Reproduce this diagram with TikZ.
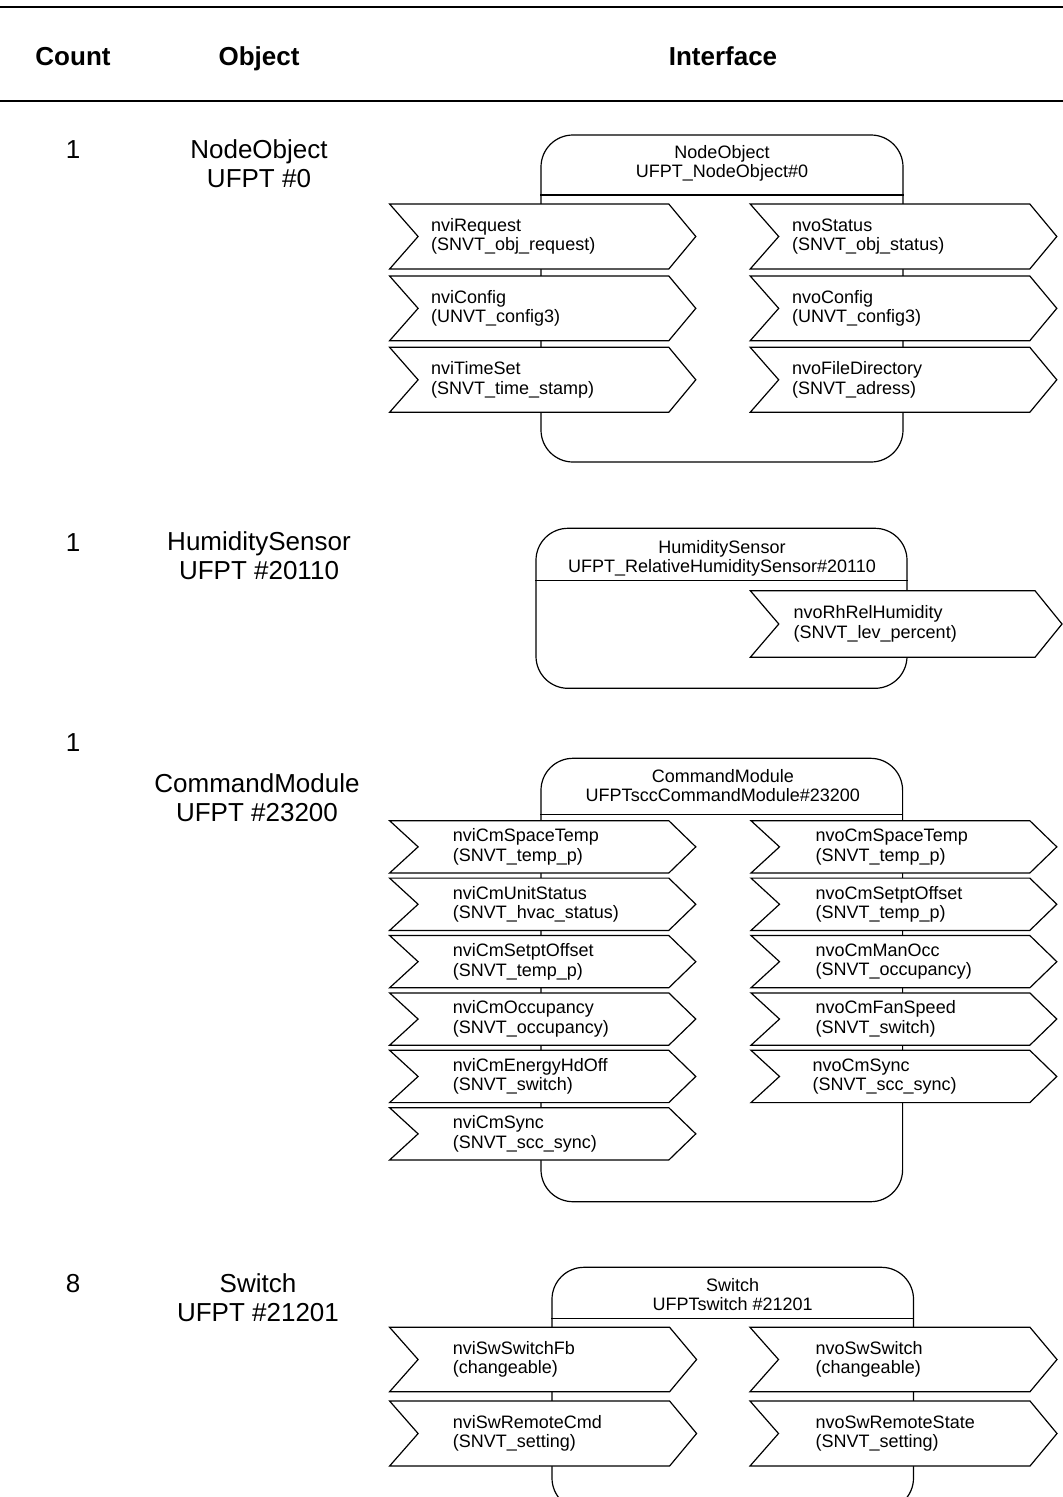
\documentclass[tikz,border=0pt]{standalone}
\usepackage{fontspec}
\setmainfont{Liberation Sans}

\tikzset{
  rule/.style={line width=2.4pt},
  objbox/.style={draw, line width=1.2pt, rounded corners=32pt, inner sep=0pt},
  divider/.style={line width=1.2pt},
  nvshape/.style={draw, fill=white, line width=1.2pt, line join=miter},
  nvtext/.style={anchor=west, align=left, inner sep=0pt, font=\fontsize{18}{19.5}\selectfont},
  titletext/.style={align=center, inner sep=0pt, font=\fontsize{18}{19}\selectfont},
  headtext/.style={anchor=base, inner sep=0pt, font=\fontsize{26}{29}\selectfont\bfseries},
  counttext/.style={anchor=base, inner sep=0pt, font=\fontsize{26}{29}\selectfont},
  objtext/.style={align=center, inner sep=0pt, font=\fontsize{26}{29}\selectfont},
}

% network variable chevron: name, x left, x body end, y top, y bottom, x text, text
\newcommand{\nvarrow}[7]{%
  \draw[nvshape] (#2,#4) -- (#3,#4) -- ({#3+27},{(#4+#5)/2}) -- (#3,#5)
    -- (#2,#5) -- ({#2+28.5},{(#4+#5)/2}) -- cycle;
  \node[nvtext] (#1) at (#6,{(#4+#5)/2}) {#7};
}

\begin{document}
\begin{tikzpicture}[x=1pt,y=-1pt]
\useasboundingbox (0,0) rectangle (1063,1497);
\clip (0,0) rectangle (1063,1497);

% table header
\draw[rule] (0,7) -- (1063,7);
\draw[rule] (0,101) -- (1063,101);
\node[headtext] (hcount) at (73,65) {Count};
\node[headtext] (hobject) at (259,65) {Object};
\node[headtext] (hiface) at (723,65) {Interface};

% ---------- NodeObject ----------
\node[counttext] (c1) at (73,158.6) {1};
\node[objtext] (o1) at (259,163.6) {NodeObject\\UFPT \#0};
\node[objbox, minimum width=362pt, minimum height=327pt] (nobox) at (722,298.5) {};
\coordinate (nodiv) at (0,195);
\draw[divider] (nobox.west |- nodiv) -- (nobox.east |- nodiv);
\node[titletext] (notitle) at (722,163.5) {NodeObject\\UFPT\_NodeObject\#0};
\nvarrow{nviRequest}{389.6}{668.8}{204}{269}{431}{nviRequest\\(SNVT\_obj\_request)}
\nvarrow{nviConfig}{389.6}{668.8}{276}{340.7}{431}{nviConfig\\(UNVT\_config3)}
\nvarrow{nviTimeSet}{389.6}{668.8}{347.3}{412.3}{431}{nviTimeSet\\(SNVT\_time\_stamp)}
\nvarrow{nvoStatus}{750.2}{1029.8}{204}{269}{792}{nvoStatus\\(SNVT\_obj\_status)}
\nvarrow{nvoConfig}{750.2}{1029.8}{276}{340.7}{792}{nvoConfig\\(UNVT\_config3)}
\nvarrow{nvoFileDirectory}{750.2}{1029.8}{347.3}{412.3}{792}{nvoFileDirectory\\(SNVT\_adress)}

% ---------- HumiditySensor ----------
\node[counttext] (c2) at (73,551) {1};
\node[objtext] (o2) at (259,556) {HumiditySensor\\UFPT \#20110};
\node[objbox, minimum width=371pt, minimum height=160pt] (hsbox) at (721.5,608.3) {};
\coordinate (hsdiv) at (0,580.7);
\draw[divider] (hsbox.west |- hsdiv) -- (hsbox.east |- hsdiv);
\node[titletext] (hstitle) at (722,558) {HumiditySensor\\UFPT\_RelativeHumiditySensor\#20110};
\nvarrow{nvoRhRelHumidity}{750.3}{1035}{590.7}{657.3}{793.5}{nvoRhRelHumidity\\(SNVT\_lev\_percent)}

% ---------- CommandModule ----------
\node[counttext] (c3) at (73,751) {1};
\node[objtext] (o3) at (257,797.6) {CommandModule\\UFPT \#23200};
\node[objbox, minimum width=361.6pt, minimum height=443.4pt] (cmbox) at (721.8,980) {};
\coordinate (cmdiv) at (0,814.3);
\draw[divider] (cmbox.west |- cmdiv) -- (cmbox.east |- cmdiv);
\node[titletext] (cmtitle) at (722.8,785.4) {CommandModule\\UFPTsccCommandModule\#23200};
\nvarrow{nviCmSpaceTemp}{389.6}{668.8}{820.7}{873}{452.7}{nviCmSpaceTemp\\(SNVT\_temp\_p)}
\nvarrow{nviCmUnitStatus}{389.6}{668.8}{878.1}{930.4}{452.7}{nviCmUnitStatus\\(SNVT\_hvac\_status)}
\nvarrow{nviCmSetptOffset}{389.6}{668.8}{935.5}{987.8}{452.7}{nviCmSetptOffset\\(SNVT\_temp\_p)}
\nvarrow{nviCmOccupancy}{389.6}{668.8}{992.9}{1045.2}{452.7}{nviCmOccupancy\\(SNVT\_occupancy)}
\nvarrow{nviCmEnergyHdOff}{389.6}{668.8}{1050.3}{1102.6}{452.7}{nviCmEnergyHdOff\\(SNVT\_switch)}
\nvarrow{nviCmSync}{389.6}{668.8}{1107.7}{1160}{452.7}{nviCmSync\\(SNVT\_scc\_sync)}
\nvarrow{nvoCmSpaceTemp}{751}{1029.8}{820.7}{873}{815.5}{nvoCmSpaceTemp\\(SNVT\_temp\_p)}
\nvarrow{nvoCmSetptOffset}{751}{1029.8}{878.1}{930.4}{815.5}{nvoCmSetptOffset\\(SNVT\_temp\_p)}
\nvarrow{nvoCmManOcc}{751}{1029.8}{935.5}{987.8}{815.5}{nvoCmManOcc\\(SNVT\_occupancy)}
\nvarrow{nvoCmFanSpeed}{751}{1029.8}{992.9}{1045.2}{815.5}{nvoCmFanSpeed\\(SNVT\_switch)}
\nvarrow{nvoCmSync}{751}{1029.8}{1050.3}{1102.6}{812.5}{nvoCmSync\\(SNVT\_scc\_sync)}

% ---------- Switch ----------
\node[counttext] (c4) at (73,1292.6) {8};
\node[objtext] (o4) at (258,1297.6) {Switch\\UFPT \#21201};
\node[objbox, minimum width=361.5pt, minimum height=242.7pt] (swbox) at (732.75,1388.65) {};
\coordinate (swdiv) at (0,1318.3);
\draw[divider] (swbox.west |- swdiv) -- (swbox.east |- swdiv);
\node[titletext] (swtitle) at (732.7,1294.4) {Switch\\UFPTswitch \#21201};
\nvarrow{nviSwSwitchFb}{389.6}{669.6}{1327.3}{1391.7}{452.7}{nviSwSwitchFb\\(changeable)}
\nvarrow{nviSwRemoteCmd}{389.6}{669.6}{1401}{1466}{452.7}{nviSwRemoteCmd\\(SNVT\_setting)}
\nvarrow{nvoSwSwitch}{750}{1030}{1327.3}{1391.7}{815.5}{nvoSwSwitch\\(changeable)}
\nvarrow{nvoSwRemoteState}{750}{1030}{1401}{1466}{815.5}{nvoSwRemoteState\\(SNVT\_setting)}
\end{tikzpicture}
\end{document}
